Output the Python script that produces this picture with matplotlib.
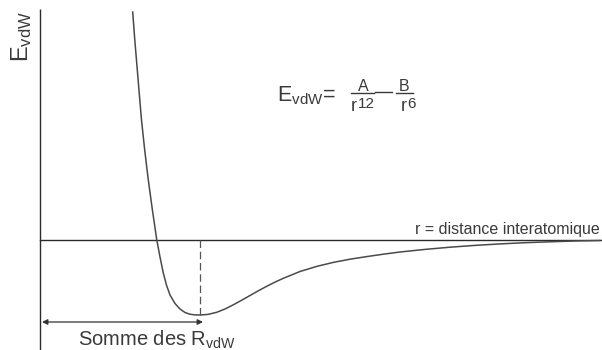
import matplotlib.pyplot as plt
from matplotlib.lines import Line2D

plt.rcParams['font.family'] = ['Liberation Sans', 'DejaVu Sans']
plt.rcParams['mathtext.fontset'] = 'custom'
plt.rcParams['mathtext.rm'] = 'Liberation Sans'
plt.rcParams['mathtext.it'] = 'Liberation Sans'

# courbe (unites arbitraires)
r = [0.927, 0.948, 0.973, 0.998, 1.015, 1.047, 1.083, 1.124, 1.168, 1.20,
     1.233, 1.266, 1.30, 1.35, 1.40, 1.45, 1.50, 1.55, 1.60, 1.68,
     1.767, 1.85, 1.933, 2.017, 2.10, 2.183, 2.267, 2.35, 2.433, 2.517,
     2.60, 2.767, 2.933, 3.10, 3.267, 3.433, 3.60, 3.85, 4.10, 4.35,
     4.60, 4.85, 5.10, 5.35, 5.60]
E = [2.28, 2.00, 1.70, 1.40, 1.20, 0.90, 0.60, 0.30, 0.00, -0.17,
     -0.33, -0.455, -0.55, -0.635, -0.69, -0.725, -0.742, -0.749, -0.75, -0.744,
     -0.723, -0.690, -0.648, -0.602, -0.555, -0.508, -0.463, -0.421, -0.383, -0.349,
     -0.315, -0.264, -0.224, -0.192, -0.166, -0.142, -0.120, -0.094, -0.072, -0.054,
     -0.039, -0.027, -0.018, -0.010, -0.005]
r_min = 1.60
E_min = -0.75
r_fin = 5.62
E_haut = 2.31

TXT = '#3a3a3a'

fig = plt.figure(figsize=(6.02, 3.5), dpi=100)
ax = fig.add_axes([0, 0, 1, 1])
ax.set_xlim(-0.40, 5.62)
ax.set_ylim(-1.10, 2.40)
ax.axis('off')

# axes
ax.plot([0, 0], [-1.10, E_haut], color='#2a2a2a', lw=1.0, solid_capstyle='butt')
ax.plot([0, r_fin], [0, 0], color='#2a2a2a', lw=1.0)

# courbe
ax.plot(r, E, color='#4a4a4a', lw=1.1)

# minimum
ax.plot([r_min, r_min], [0, E_min], color='#555555', lw=0.9, ls=(0, (6, 3)))
ax.annotate('', xy=(0.02, E_min - 0.07), xytext=(r_min + 0.03, E_min - 0.07),
            arrowprops=dict(arrowstyle='<|-|>', color='#333333', lw=0.9,
                            mutation_scale=8, shrinkA=0, shrinkB=0))

# textes
def px(x, y):
    return x / 602, 1 - y / 350

fig.text(*px(22, 37), r'E$_{\rm vdW}$', rotation=90, fontsize=17, color=TXT,
         ha='center', va='center')
fig.text(*px(157, 340), r'Somme des R$_{\rm vdW}$', fontsize=14.5, color=TXT,
         ha='center', va='center')
fig.text(*px(600, 234), 'r = distance interatomique', fontsize=11.5, color=TXT,
         ha='right', va='baseline')

# formule
fig.text(*px(277, 101), r'E$_{\rm vdW}$=', fontsize=15.5, color=TXT,
         ha='left', va='baseline')
fig.text(*px(363, 91), 'A', fontsize=11.5, color=TXT, ha='center', va='baseline')
fig.text(*px(351, 111), 'r', fontsize=13, color=TXT, ha='left', va='baseline')
fig.text(*px(358, 107.5), '12', fontsize=11, color=TXT, ha='left', va='baseline')
fig.text(*px(404, 91), 'B', fontsize=11.5, color=TXT, ha='center', va='baseline')
fig.text(*px(401, 111), 'r', fontsize=13, color=TXT, ha='left', va='baseline')
fig.text(*px(407, 107.5), '6', fontsize=11, color=TXT, ha='left', va='baseline')
for x0, x1, y in [(351, 374, 93), (375, 392, 92.3), (396, 413, 93)]:
    a, b = px(x0, y)
    c, _ = px(x1, y)
    fig.add_artist(Line2D([a, c], [b, b], color=TXT, lw=1.0))

fig.savefig('out.png', dpi=100)
